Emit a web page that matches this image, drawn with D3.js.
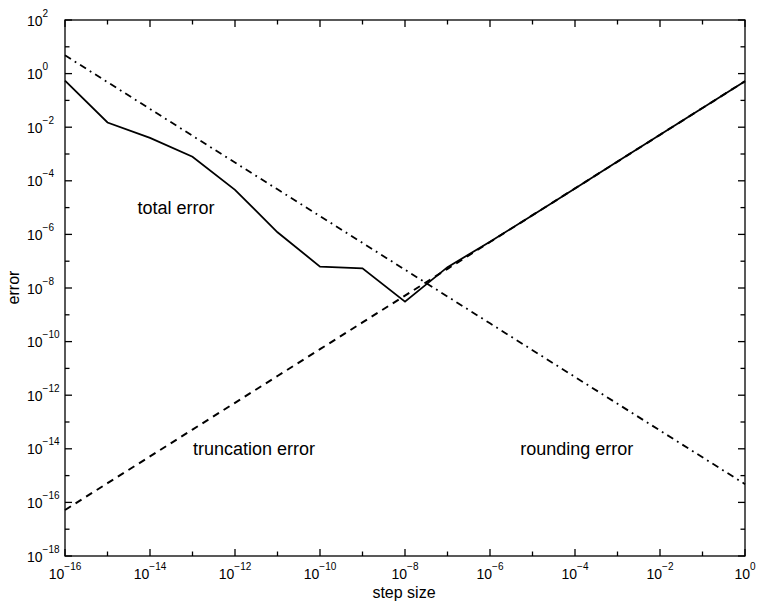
<!DOCTYPE html>
<html>
<head>
<meta charset="utf-8">
<script src="https://cdn.jsdelivr.net/npm/d3@7"></script>
<style>
  html, body { margin: 0; padding: 0; background: #fff; }
  svg { display: block; }
  text { font-family: "Liberation Sans", Arial, Helvetica, sans-serif; fill: #000; }
</style>
</head>
<body>
<svg id="chart" width="757" height="601"></svg>
<script>
// ---- data ----
const stepSizes = [1e-16, 1e-15, 1e-14, 1e-13, 1e-12, 1e-11, 1e-10, 1e-9, 1e-8,
                   1e-7, 1e-6, 1e-5, 1e-4, 1e-3, 1e-2, 1e-1, 1e0];
const totalError = [0.55, 0.015, 0.004, 7.9e-4, 4.6e-5, 1.2e-6, 6.3e-8, 5.4e-8, 3.1e-9,
                    6.0e-8, 5.3e-7, 5.2e-6, 5.2e-5, 5.2e-4, 5.2e-3, 5.2e-2, 0.52];
const truncationError = [5.2e-17, 5.2e-16, 5.2e-15, 5.2e-14, 5.2e-13, 5.2e-12, 5.2e-11, 5.2e-10, 5.2e-9,
                         5.2e-8, 5.2e-7, 5.2e-6, 5.2e-5, 5.2e-4, 5.2e-3, 5.2e-2, 0.52];
const roundingError = [4.8, 0.48, 4.8e-2, 4.8e-3, 4.8e-4, 4.8e-5, 4.8e-6, 4.8e-7, 4.8e-8,
                       4.8e-9, 4.8e-10, 4.8e-11, 4.8e-12, 4.8e-13, 4.8e-14, 4.8e-15, 4.8e-16];
const xTickExps = [-16, -14, -12, -10, -8, -6, -4, -2, 0];
const yTickExps = [2, 0, -2, -4, -6, -8, -10, -12, -14, -16, -18];
const xMinorExps = [-15, -13, -11, -9, -7, -5, -3, -1];
const yMinorExps = [1, -1, -3, -5, -7, -9, -11, -13, -15, -17];
const annotations = [
  { text: "total error", x: 4.1e-14, y: 5.7e-6 },
  { text: "truncation error", x: 2.8e-12, y: 6e-15 },
  { text: "rounding error", x: 1.1e-4, y: 6e-15 }
];

// ---- layout ----
const L = 65, R = 745, T = 20, B = 556;
const svg = d3.select("#chart");
const x = d3.scaleLog().domain([1e-16, 1e0]).range([L, R]);
const y = d3.scaleLog().domain([1e-18, 1e2]).range([B, T]);

const sup = e => (e < 0 ? "\u2212" + Math.abs(e) : String(e));

// ---- lines ----
const line = (ys) => d3.line().x((d, i) => x(stepSizes[i])).y((d, i) => y(ys[i]))(ys);

svg.append("path").attr("d", line(roundingError))
  .attr("fill", "none").attr("stroke", "#000").attr("stroke-width", 1.8)
  .attr("stroke-dasharray", "7,4.5,1.8,4.5");
svg.append("path").attr("d", line(truncationError))
  .attr("fill", "none").attr("stroke", "#000").attr("stroke-width", 2)
  .attr("stroke-dasharray", "7,5.5");
svg.append("path").attr("d", line(totalError))
  .attr("fill", "none").attr("stroke", "#000").attr("stroke-width", 1.8)
  .attr("stroke-linejoin", "miter");

// ---- frame & ticks ----
const ax = svg.append("g").attr("stroke", "#000").attr("stroke-width", 1.3);
ax.append("rect").attr("x", L).attr("y", T).attr("width", R - L).attr("height", B - T)
  .attr("fill", "none");

const major = 7, minor = 4.5;
xTickExps.forEach(e => {
  const px = x(Math.pow(10, e));
  ax.append("line").attr("x1", px).attr("x2", px).attr("y1", B).attr("y2", B - major);
  ax.append("line").attr("x1", px).attr("x2", px).attr("y1", T).attr("y2", T + major);
});
xMinorExps.forEach(e => {
  const px = x(Math.pow(10, e));
  ax.append("line").attr("x1", px).attr("x2", px).attr("y1", B).attr("y2", B - minor);
  ax.append("line").attr("x1", px).attr("x2", px).attr("y1", T).attr("y2", T + minor);
});
yTickExps.forEach(e => {
  const py = y(Math.pow(10, e));
  ax.append("line").attr("x1", L).attr("x2", L + major).attr("y1", py).attr("y2", py);
  ax.append("line").attr("x1", R).attr("x2", R - major).attr("y1", py).attr("y2", py);
});
yMinorExps.forEach(e => {
  const py = y(Math.pow(10, e));
  ax.append("line").attr("x1", L).attr("x2", L + minor).attr("y1", py).attr("y2", py);
  ax.append("line").attr("x1", R).attr("x2", R - minor).attr("y1", py).attr("y2", py);
});

// ---- tick labels ----
xTickExps.forEach(e => {
  const t = svg.append("text").attr("x", x(Math.pow(10, e))).attr("y", 579)
    .attr("text-anchor", "middle").attr("font-size", 14);
  t.append("tspan").text("10");
  t.append("tspan").attr("dy", -9).attr("font-size", 10).text(sup(e));
});
yTickExps.forEach(e => {
  const t = svg.append("text").attr("x", 27).attr("y", y(Math.pow(10, e)) + 5.5)
    .attr("text-anchor", "start").attr("font-size", 14);
  t.append("tspan").text("10");
  t.append("tspan").attr("dy", -9).attr("font-size", 10).text(sup(e));
});

// ---- axis titles ----
svg.append("text").attr("x", 404).attr("y", 598).attr("text-anchor", "middle")
  .attr("font-size", 16).text("step size");
svg.append("text").attr("transform", "translate(18.5,287.5) rotate(-90)")
  .attr("text-anchor", "middle").attr("font-size", 16).text("error");

// ---- annotations ----
annotations.forEach(a => {
  svg.append("text").attr("x", x(a.x)).attr("y", y(a.y)).attr("text-anchor", "middle")
    .attr("font-size", 18).text(a.text);
});
</script>
</body>
</html>
